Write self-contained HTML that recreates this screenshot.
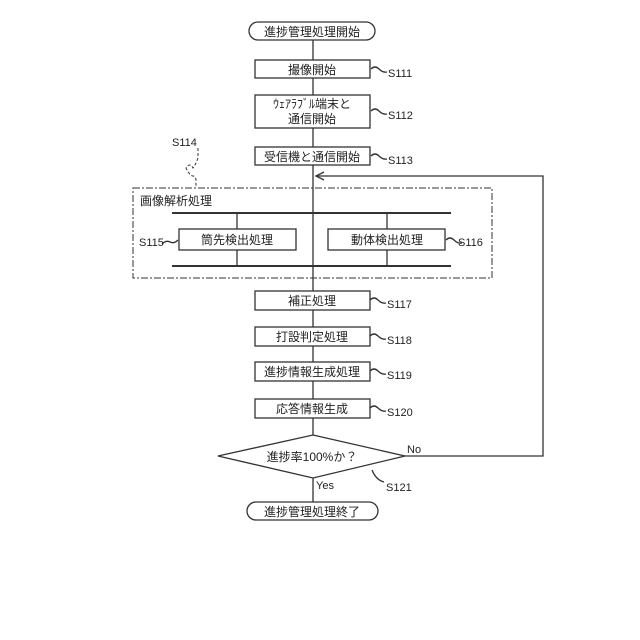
<!DOCTYPE html>
<html><head><meta charset="utf-8"><style>
html,body{margin:0;padding:0;background:#fff;width:640px;height:640px;overflow:hidden}
svg text{font-family:"Liberation Sans","Noto Sans CJK JP",sans-serif;fill:#222}
</style></head><body>
<svg width="640" height="640" viewBox="0 0 640 640" xmlns="http://www.w3.org/2000/svg">
<g stroke="#333" stroke-width="1.3" fill="none">
<!-- main vertical line -->
<line x1="313" y1="40" x2="313" y2="502"/>
<!-- terminals -->
<rect x="249" y="22" width="126" height="18" rx="9" fill="#fff"/>
<rect x="247" y="502" width="131" height="18" rx="9" fill="#fff"/>
<!-- boxes -->
<rect x="255" y="60" width="115" height="18" fill="#fff"/>
<rect x="255" y="95" width="115" height="33" fill="#fff"/>
<rect x="255" y="147" width="115" height="18" fill="#fff"/>
<rect x="255" y="291" width="115" height="19" fill="#fff"/>
<rect x="255" y="327" width="115" height="19" fill="#fff"/>
<rect x="255" y="362" width="115" height="19" fill="#fff"/>
<rect x="255" y="399" width="115" height="19" fill="#fff"/>
<!-- dashed group box -->
<rect x="133" y="188" width="359" height="90" stroke-dasharray="7,2,2,2" stroke-width="1"/>
<!-- parallel bars -->
<line x1="172" y1="213" x2="451" y2="213" stroke-width="2"/>
<line x1="172" y1="266" x2="451" y2="266" stroke-width="2"/>
<line x1="237" y1="213" x2="237" y2="266"/>
<line x1="387" y1="213" x2="387" y2="266"/>
<rect x="179" y="229" width="117" height="21" fill="#fff"/>
<rect x="328" y="229" width="117" height="21" fill="#fff"/>
<!-- diamond -->
<polygon points="313,435 405,456 313,478 218,456" fill="#fff"/>
<!-- loop -->
<polyline points="405,456 543,456 543,176 316,176"/>
<polyline points="324,172 316,176 324,180"/>
<!-- leader squiggles -->
<path d="M371,69 q4,-4 8,0 t8,3"/>
<path d="M371,111 q4,-4 8,0 t8,3"/>
<path d="M371,156 q4,-4 8,0 t8,3"/>
<path d="M370,300 q4,-4 8,0 t8,3"/>
<path d="M370,336 q4,-4 8,0 t8,3"/>
<path d="M370,371 q4,-4 8,0 t8,3"/>
<path d="M370,408 q4,-4 8,0 t8,3"/>
<path d="M446,240 q4,-4 8,0 t8,3"/>
<path d="M178,240 q-4,4 -8,2 t-8,2"/>
<path d="M372,470 q4,10 12,12"/>
<path d="M198,148 v10 q-3,8 -5,10 q-3,-6 -7,0 q4,8 7,8 q3,0 3,5 v7" stroke-dasharray="3,2" stroke-width="1"/>
</g>
<g font-size="12" text-anchor="middle">
<text x="312" y="36">進捗管理処理開始</text>
<text x="312" y="74">撮像開始</text>
<text x="312" y="108">ｳｪｱﾗﾌﾞﾙ端末と</text>
<text x="312" y="123">通信開始</text>
<text x="312" y="161">受信機と通信開始</text>
<text x="237" y="244">筒先検出処理</text>
<text x="387" y="244">動体検出処理</text>
<text x="312" y="305">補正処理</text>
<text x="312" y="341">打設判定処理</text>
<text x="312" y="376">進捗情報生成処理</text>
<text x="312" y="413">応答情報生成</text>
<text x="312" y="461">進捗率100%か？</text>
<text x="312" y="516">進捗管理処理終了</text>
</g>
<g font-size="11">
<text x="140" y="205" font-size="12">画像解析処理</text>
<text x="388" y="77">S111</text>
<text x="388" y="119">S112</text>
<text x="388" y="164">S113</text>
<text x="172" y="146">S114</text>
<text x="139" y="246">S115</text>
<text x="458" y="246">S116</text>
<text x="387" y="308">S117</text>
<text x="387" y="344">S118</text>
<text x="387" y="379">S119</text>
<text x="387" y="416">S120</text>
<text x="386" y="491">S121</text>
<text x="407" y="453">No</text>
<text x="316" y="489">Yes</text>
</g>
</svg>
</body></html>
